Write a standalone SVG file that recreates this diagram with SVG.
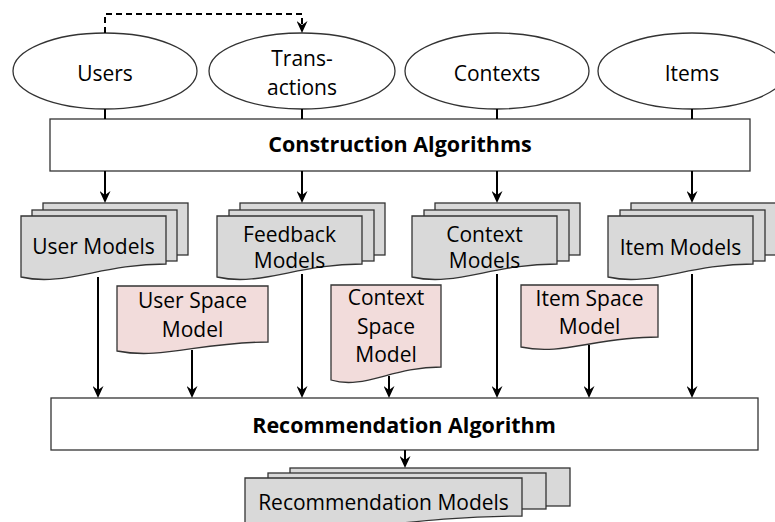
<svg xmlns="http://www.w3.org/2000/svg" width="775" height="522" viewBox="0 0 775 522">
<style>
text{font-family:"Open Sans","Noto Sans",sans-serif;font-size:21px;fill:#000;text-anchor:middle}
.b{font-weight:bold;font-size:21.5px}
.ell{fill:#fff;stroke:#333;stroke-width:1.3}
.box{fill:#fff;stroke:#333;stroke-width:1.3}
.gray{fill:#d9d9d9;stroke:#333;stroke-width:1.3}
.pink{fill:#f2dcdb;stroke:#333;stroke-width:1.3}
.ln{fill:none;stroke:#000;stroke-width:2}
.arr{fill:none;stroke:#000;stroke-width:2;marker-end:url(#ah)}
.dash{fill:none;stroke:#000;stroke-width:2;stroke-dasharray:6 4;marker-end:url(#ah)}
</style>
<defs>
<marker id="ah" viewBox="0 0 12 11" refX="10" refY="5.5" markerWidth="12" markerHeight="11" markerUnits="userSpaceOnUse" orient="auto">
<path d="M0,0 L12,5.5 L0,11 L4,5.5 Z" fill="#000"/>
</marker>
</defs>

<g id="users"><ellipse class="ell" cx="105" cy="71" rx="92" ry="38"/><text x="105" y="81">Users</text></g>
<g id="transactions"><ellipse class="ell" cx="302" cy="71" rx="93" ry="38"/><text x="302" y="65.5">Trans-</text><text x="302" y="95">actions</text></g>
<g id="contexts"><ellipse class="ell" cx="497" cy="71" rx="92" ry="38"/><text x="497" y="81">Contexts</text></g>
<g id="items"><ellipse class="ell" cx="692" cy="71" rx="94" ry="38"/><text x="692" y="81">Items</text></g>

<g id="construction"><rect class="box" x="50" y="119" width="700" height="52"/><text class="b" x="400" y="152">Construction Algorithms</text></g>

<g id="user-models">
<rect class="gray" x="43" y="203" width="145" height="52"/>
<rect class="gray" x="32" y="210" width="145" height="51"/>
<path class="gray" d="M21,216 H166 V264 C100.75,264 64.5,287 21,277 Z"/>
<text x="93.5" y="254">User Models</text>
</g>
<g id="feedback-models">
<rect class="gray" x="240" y="203" width="145" height="52"/>
<rect class="gray" x="229" y="210" width="145" height="51"/>
<path class="gray" d="M217,216 H362 V264 C296.75,264 260.5,287 217,277 Z"/>
<text x="289.5" y="241.7">Feedback</text><text x="289.5" y="268">Models</text>
</g>
<g id="context-models">
<rect class="gray" x="435" y="203" width="145" height="52"/>
<rect class="gray" x="424" y="210" width="145" height="51"/>
<path class="gray" d="M412,216 H557 V264 C491.75,264 455.5,287 412,277 Z"/>
<text x="484.5" y="241.7">Context</text><text x="484.5" y="268">Models</text>
</g>
<g id="item-models">
<rect class="gray" x="631" y="203" width="145" height="52"/>
<rect class="gray" x="620" y="210" width="145" height="51"/>
<path class="gray" d="M608,216 H753 V264 C687.75,264 651.5,287 608,277 Z"/>
<text x="680.5" y="255">Item Models</text>
</g>

<g id="user-space-model">
<path class="pink" d="M117,286 H268 V342 C200,342 162,360 117,351 Z"/>
<text x="192.5" y="307.7">User Space</text><text x="192.5" y="336.7">Model</text>
</g>
<g id="context-space-model">
<path class="pink" d="M331,285 H441 V367 C391.5,367 364,390 331,380 Z"/>
<text x="386" y="305">Context</text><text x="386" y="334">Space</text><text x="386" y="362">Model</text>
</g>
<g id="item-space-model">
<path class="pink" d="M521,285 H658 V337 C596,337 562,356 521,347 Z"/>
<text x="589.5" y="306">Item Space</text><text x="589.5" y="334">Model</text>
</g>

<g id="recommendation-algorithm"><rect class="box" x="51" y="398" width="707" height="52"/><text class="b" x="404" y="432.7">Recommendation Algorithm</text></g>

<g id="recommendation-models">
<rect class="gray" x="290" y="468" width="280" height="38"/>
<rect class="gray" x="268" y="473" width="278" height="36"/>
<path class="gray" d="M245,478 H522 V516 C397,516 328,540 245,530 Z"/>
<text x="383.5" y="510">Recommendation Models</text>
</g>

<g id="connectors">
<path class="dash" d="M105,33 V14 H302 V31"/>
<path class="ln" d="M105,109 V119 M302,109 V119 M497,109 V119 M692,109 V119"/>
<path class="arr" d="M105,171 V201"/>
<path class="arr" d="M302,171 V201"/>
<path class="arr" d="M497,171 V201"/>
<path class="arr" d="M692,171 V201"/>
<path class="arr" d="M98,277 V396"/>
<path class="arr" d="M192,350 V396"/>
<path class="arr" d="M302,274 V396"/>
<path class="arr" d="M389,376 V396"/>
<path class="arr" d="M497,274 V396"/>
<path class="arr" d="M589,345 V396"/>
<path class="arr" d="M692,274 V396"/>
<path class="arr" d="M405,450 V466"/>
</g>
</svg>
